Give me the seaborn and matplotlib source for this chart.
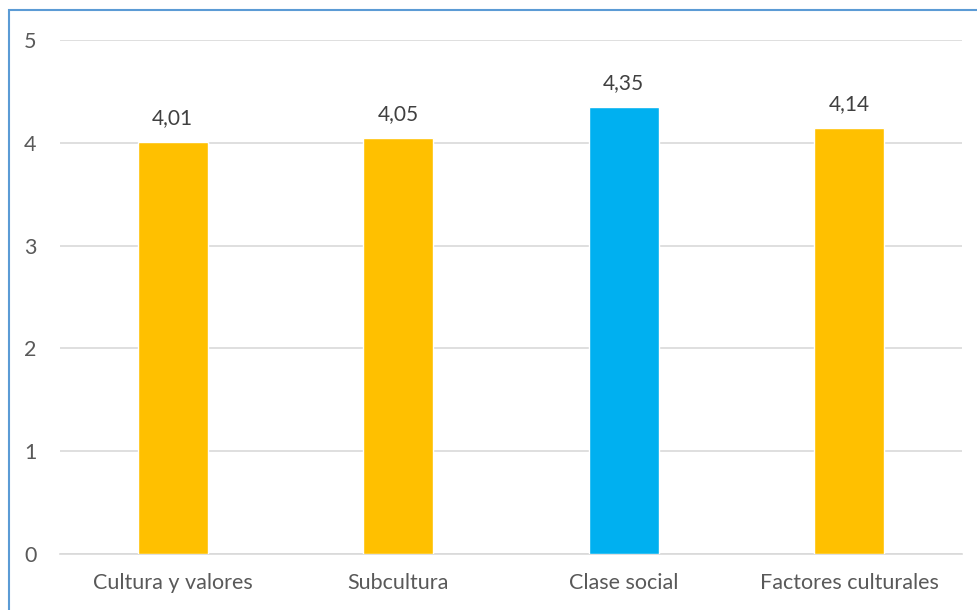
import matplotlib
matplotlib.use("Agg")
import matplotlib.pyplot as plt
import seaborn as sns
import pandas as pd
from matplotlib.patches import Rectangle

categories = ["Cultura y valores", "Subcultura", "Clase social", "Factores culturales"]
values = [4.01, 4.05, 4.35, 4.14]
labels = ["4,01", "4,05", "4,35", "4,14"]
colors = ["#FFC000", "#FFC000", "#00B0F0", "#FFC000"]
yticks = [0, 1, 2, 3, 4, 5]

sns.set_theme(style="white")
plt.rcParams["font.family"] = ["Lato", "DejaVu Sans"]

df = pd.DataFrame({"cat": categories, "val": values})

fig = plt.figure(figsize=(9.78, 6.1), dpi=100)
ax = fig.add_axes([60/978, 1-554/610, (962-60)/978, (554-40)/610])

sns.barplot(data=df, x="cat", y="val", hue="cat", palette=colors, legend=False,
            width=0.31, ax=ax, saturation=1, zorder=3)

ax.set_ylim(0, 5)
ax.set_xlim(-0.5, 3.5)
ax.set_yticks(yticks)
ax.set_yticklabels([str(t) for t in yticks])
ax.yaxis.grid(True, color="#D9D9D9", linewidth=1.2, zorder=0)
ax.set_axisbelow(True)
for s in ["top", "right", "left"]:
    ax.spines[s].set_visible(False)
ax.spines["bottom"].set_color("#D9D9D9")
ax.spines["bottom"].set_linewidth(1.2)
ax.set_xlabel("")
ax.set_ylabel("")
ax.tick_params(axis="both", length=0, labelsize=15.5, labelcolor="#595959")
ax.tick_params(axis="y", pad=17)
ax.tick_params(axis="x", pad=14)

for i, (v, lab) in enumerate(zip(values, labels)):
    ax.annotate(lab, (i, v), xytext=(0, 10), textcoords="offset points",
                ha="center", va="bottom", fontsize=15, color="#404040")

fig.patches.append(Rectangle((9/978, -0.1), 1.2, 1 - 10/610 + 0.1,
                             transform=fig.transFigure, fill=False,
                             edgecolor="#5B9BD5", linewidth=1.5))

fig.savefig("out.png", dpi=100)
